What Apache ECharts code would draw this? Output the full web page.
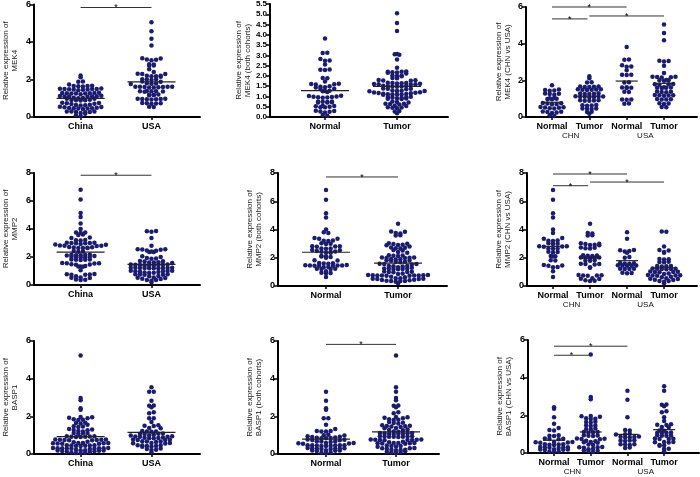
<!DOCTYPE html>
<html><head><meta charset="utf-8">
<script src="https://cdn.jsdelivr.net/npm/echarts@6/dist/echarts.min.js"></script>
<style>html,body{margin:0;padding:0;background:#fff}#c{width:700px;height:477px}</style>
</head><body><div id="c"></div>
<script>
// ---------- DATA ----------
const mek4ChnNormal = [1.73,1.50,1.47,1.45,1.43,1.27,1.25,1.22,1.28,1.02,1.00,0.98,1.03,0.97,0.75,0.73,0.71,0.76,0.70,0.52,0.50,0.48,0.53,0.47,0.55,0.29,0.27,0.25,0.30,0.22,0.10,0.06];
const mek4ChnTumor = [2.22,2.12,1.90,1.88,1.66,1.64,1.67,1.63,1.65,1.50,1.48,1.52,1.47,1.51,1.49,1.28,1.26,1.27,1.25,1.29,1.10,1.12,1.08,1.11,1.09,1.10,1.13,0.90,0.92,0.88,0.91,0.89,0.63,0.65,0.61,0.64,0.45,0.47,0.43,0.46,0.27,0.29,0.18];
const mek4UsaNormal = [3.82,3.13,3.12,2.82,2.75,2.74,2.55,2.31,2.29,2.30,1.90,1.88,1.62,1.60,1.58,1.61,1.38,1.36,0.96,0.95,0.94,0.74,0.72];
const mek4UsaTumor = [5.05,4.58,4.18,3.05,3.07,3.03,2.80,2.40,2.20,2.18,2.15,2.20,2.17,2.02,2.00,1.98,2.01,1.80,1.78,1.76,1.79,1.62,1.60,1.58,1.61,1.59,1.38,1.37,1.35,1.39,1.20,1.18,1.16,1.19,1.17,0.97,0.96,0.95,0.98,0.75,0.73,0.71,0.55,0.53];

const mmp2ChnNormal = [6.80,6.10,5.15,4.85,4.00,3.75,3.35,3.40,3.20,3.18,3.22,3.00,3.02,2.98,2.80,2.82,2.78,2.81,2.65,2.66,2.64,2.40,2.42,2.38,2.10,2.12,2.08,1.80,1.82,1.46,1.48,1.44,1.35,1.33,1.05,0.63];
const mmp2ChnTumor = [4.40,3.75,3.72,3.60,3.58,3.02,3.00,2.98,2.92,2.90,2.88,2.68,2.65,2.70,2.72,2.15,2.17,2.13,2.16,2.00,2.02,1.98,2.01,1.99,1.80,1.82,1.78,1.55,1.57,1.53,1.56,1.30,1.32,0.78,0.75,0.73,0.76,0.74,0.52,0.50,0.54,0.38,0.36,0.40];
const mmp2UsaNormal = [3.80,3.35,2.55,2.53,2.45,2.47,2.35,2.05,2.00,1.62,1.60,1.58,1.61,1.46,1.44,1.45,1.47,1.43,1.22,1.20,1.23,1.21,0.92,0.90,0.94];
const mmp2UsaTumor = [3.86,3.84,2.80,2.55,2.52,2.40,2.35,1.92,1.90,1.88,1.70,1.72,1.68,1.40,1.42,1.38,1.41,1.22,1.20,1.24,1.21,1.23,1.19,1.00,1.02,0.98,1.01,0.99,0.85,0.88,0.75,0.77,0.73,0.76,0.74,0.62,0.65,0.52,0.50,0.54,0.45,0.42,0.35,0.36,0.30,0.20];

const basp1ChnNormal = [2.43,2.35,1.90,1.55,1.33,1.22,1.20,0.92,0.90,0.94,0.75,0.77,0.73,0.76,0.57,0.59,0.55,0.58,0.56,0.45,0.47,0.43,0.46,0.44,0.30,0.32,0.28,0.31,0.29,0.27,0.18,0.20,0.16,0.19,0.17,0.07,0.05,0.08];
const basp1ChnTumor = [5.23,2.97,2.85,1.95,1.97,1.93,1.82,1.80,1.84,1.64,1.66,1.62,1.46,1.48,1.44,1.28,1.30,1.26,1.10,1.12,1.08,1.11,0.92,0.94,0.90,0.93,0.75,0.77,0.73,0.76,0.65,0.62,0.57,0.59,0.55,0.45,0.42,0.30,0.32,0.28,0.31,0.20,0.22,0.12,0.14,0.10,0.05];
const basp1UsaNormal = [3.30,2.83,1.90,1.20,1.22,1.00,1.02,0.98,0.85,0.87,0.83,0.86,0.84,0.66,0.68,0.64,0.67,0.45,0.47,0.43,0.46,0.27,0.29];
const basp1UsaTumor = [3.55,3.30,2.58,2.56,2.48,2.22,2.17,1.90,1.70,1.50,1.52,1.49,1.37,1.38,1.20,1.18,1.07,1.08,1.06,1.09,0.92,0.93,0.91,0.94,0.75,0.76,0.74,0.77,0.57,0.58,0.56,0.59,0.40,0.42,0.38,0.21,0.23,0.09];

const catsCountry = ['China', 'USA'];
const catsTissue = ['Normal', 'Tumor'];
const catsFour = ['Normal', 'Tumor', 'Normal', 'Tumor'];
const cohortLabels = ['CHN', 'USA'];

const yTitles = [
  'Relative expression of\nMEK4', 'Relative expression of\nMEK4 (both cohorts)', 'Relative expression of\nMEK4 (CHN vs USA)',
  'Relative expression of\nMMP2', 'Relative expression of\nMMP2 (both cohorts)', 'Relative expression of\nMMP2 (CHN vs USA)',
  'Relative expression of\nBASP1', 'Relative expression of\nBASP1 (both cohorts)', 'Relative expression of\nBASP1 (CHN vs USA)'
];
const yMaxes = [6, 5.5, 6, 8, 8, 8, 6, 6, 6];
const yIntervals = [2, 0.5, 2, 2, 2, 2, 2, 2, 2];

// significance bars: [from category, to category, y value]
const sigMek4Country = [[1, 2, 5.84]];
const sigMek4Tissue = [];
const sigMek4Four = [[1, 3, 6.0], [1, 1.95, 5.35], [2, 4, 5.51]];
const sigMmp2Country = [[1, 2, 7.84]];
const sigMmp2Tissue = [[1, 2, 7.72]];
const sigMmp2Four = [[1, 3, 7.93], [1, 1.95, 7.1], [2, 4, 7.36]];
const sigBasp1Country = [];
const sigBasp1Tissue = [[1, 2, 5.82]];
const sigBasp1Four = [[1, 3, 5.67], [1, 1.95, 5.19]];

// ---------- LAYOUT ----------
const FONT = '"Liberation Sans", Arial, Helvetica, sans-serif';
const DOT = '#1b1b70';
const layouts = [
  {grid: {left: 29, top: 4, width: 171, height: 113}, xr: [0.342, 2.685], gap: 15},
  {grid: {left: 270, top: 4, width: 178, height: 113}, xr: [0.236, 2.708], gap: 17},
  {grid: {left: 526, top: 7, width: 171, height: 110}, xr: [0.3035, 4.884], gap: 14},
  {grid: {left: 29, top: 173, width: 171, height: 112}, xr: [0.342, 2.685], gap: 15},
  {grid: {left: 278, top: 173, width: 169, height: 113}, xr: [0.333, 2.68], gap: 15},
  {grid: {left: 527, top: 173, width: 170, height: 113}, xr: [0.297, 4.89], gap: 15},
  {grid: {left: 29, top: 341, width: 171, height: 113}, xr: [0.342, 2.685], gap: 15},
  {grid: {left: 278, top: 341, width: 161, height: 113}, xr: [0.314, 2.614], gap: 15},
  {grid: {left: 528, top: 340, width: 171, height: 113}, xr: [0.29, 4.95], gap: 15}
];

const panelGroups = [
  {cats: catsCountry, groups: [mek4ChnNormal.concat(mek4ChnTumor), mek4UsaNormal.concat(mek4UsaTumor)], sig: sigMek4Country},
  {cats: catsTissue, groups: [mek4ChnNormal.concat(mek4UsaNormal), mek4ChnTumor.concat(mek4UsaTumor)], sig: sigMek4Tissue},
  {cats: catsFour, groups: [mek4ChnNormal, mek4ChnTumor, mek4UsaNormal, mek4UsaTumor], sig: sigMek4Four},
  {cats: catsCountry, groups: [mmp2ChnNormal.concat(mmp2ChnTumor), mmp2UsaNormal.concat(mmp2UsaTumor)], sig: sigMmp2Country},
  {cats: catsTissue, groups: [mmp2ChnNormal.concat(mmp2UsaNormal), mmp2ChnTumor.concat(mmp2UsaTumor)], sig: sigMmp2Tissue},
  {cats: catsFour, groups: [mmp2ChnNormal, mmp2ChnTumor, mmp2UsaNormal, mmp2UsaTumor], sig: sigMmp2Four},
  {cats: catsCountry, groups: [basp1ChnNormal.concat(basp1ChnTumor), basp1UsaNormal.concat(basp1UsaTumor)], sig: sigBasp1Country},
  {cats: catsTissue, groups: [basp1ChnNormal.concat(basp1UsaNormal), basp1ChnTumor.concat(basp1UsaTumor)], sig: sigBasp1Tissue},
  {cats: catsFour, groups: [basp1ChnNormal, basp1ChnTumor, basp1UsaNormal, basp1UsaTumor], sig: sigBasp1Four}
];

// Prism-style scatter-dot layout: values binned into rows, spread sideways (pixel offsets)
function swarm(values, pxPerUnit, binH, pitch) {
  const bins = {};
  values.forEach(v => {
    const b = Math.floor(v * pxPerUnit / binH);
    (bins[b] = bins[b] || []).push(v);
  });
  const out = [];
  Object.keys(bins).forEach(k => {
    const arr = bins[k].slice().sort((a, b) => a - b);
    const n = arr.length;
    const flip = (+k) % 2 ? 1 : -1;
    arr.forEach((v, j) => {
      let off;
      if (n % 2) { const m = Math.ceil(j / 2); off = (j % 2 ? 1 : -1) * m * pitch; }
      else { const m = Math.floor(j / 2); off = (j % 2 ? 1 : -1) * (m + 0.5) * pitch; }
      out.push({v: v, x: off * flip});
    });
  });
  return out;
}
const mean = a => a.reduce((s, v) => s + v, 0) / a.length;

const option = {animation: false, backgroundColor: '#fff', grid: [], xAxis: [], yAxis: [], series: []};

layouts.forEach((L, i) => {
  const P = panelGroups[i];
  const n = P.cats.length;
  const four = n === 4;
  option.grid.push(Object.assign({containLabel: false}, L.grid));
  const ticks = P.cats.map((c, k) => k + 1);
  option.xAxis.push({
    gridIndex: i, type: 'value', min: L.xr[0], max: L.xr[1],
    axisLine: {show: true, onZero: false, lineStyle: {color: '#000', width: 2}},
    axisTick: {show: true, customValues: ticks, length: 3, lineStyle: {color: '#000', width: 1.5}},
    axisLabel: {customValues: ticks, formatter: v => P.cats[Math.round(v) - 1], fontFamily: FONT, fontWeight: 'bold', fontSize: 9, color: '#000', margin: 5},
    splitLine: {show: false}
  });
  const xIdx = option.xAxis.length - 1;
  if (four) {
    option.xAxis.push({
      gridIndex: i, type: 'value', min: L.xr[0], max: L.xr[1], position: 'bottom',
      axisLine: {show: false, onZero: false}, axisTick: {show: false},
      axisLabel: {customValues: [1.5, 3.5], formatter: v => cohortLabels[v < 2.5 ? 0 : 1], fontFamily: FONT, fontSize: 8, color: '#111', margin: 15},
      splitLine: {show: false}
    });
  }
  option.yAxis.push({
    gridIndex: i, type: 'value', min: 0, max: yMaxes[i], interval: yIntervals[i],
    axisLine: {show: true, lineStyle: {color: '#000', width: 2}},
    axisTick: {show: true, length: 4, lineStyle: {color: '#000', width: 1.5}},
    axisLabel: {fontFamily: FONT, fontWeight: 'bold', fontSize: i === 1 ? 8 : 9, color: '#000', margin: 3,
      formatter: v => yIntervals[i] < 1 ? v.toFixed(1) : String(v)},
    splitLine: {show: false},
    name: yTitles[i], nameLocation: 'middle', nameRotate: 90, nameGap: L.gap,
    nameTextStyle: {fontFamily: FONT, fontSize: 8, lineHeight: 9, color: '#222'}
  });
  const yIdx = i;
  const pxPerUnit = L.grid.height / yMaxes[i];
  const dots = [], means = [];
  P.groups.forEach((g, k) => {
    swarm(g, pxPerUnit, 3.7, 4.6).forEach(p => dots.push([k + 1, p.v, p.x]));
    means.push([k + 1, mean(g), four ? 11 : 24]);
  });
  option.series.push({
    type: 'custom', xAxisIndex: xIdx, yAxisIndex: yIdx, data: dots, encode: {x: 0, y: 1}, silent: true,
    renderItem: (params, api) => {
      const p = api.coord([api.value(0), api.value(1)]);
      return {type: 'circle', shape: {cx: p[0] + api.value(2), cy: p[1], r: 2.25}, style: {fill: DOT}};
    }
  });
  option.series.push({
    type: 'custom', xAxisIndex: xIdx, yAxisIndex: yIdx, data: means, encode: {x: 0, y: 1}, silent: true, z: 3,
    renderItem: (params, api) => {
      const p = api.coord([api.value(0), api.value(1)]);
      const h = api.value(2);
      return {type: 'line', shape: {x1: p[0] - h, y1: p[1], x2: p[0] + h, y2: p[1]}, style: {stroke: '#222', lineWidth: 1.2}};
    }
  });
  if (P.sig.length) {
    option.series.push({
      type: 'custom', xAxisIndex: xIdx, yAxisIndex: yIdx, data: P.sig, encode: {x: [0, 1], y: 2}, silent: true, clip: false,
      renderItem: (params, api) => {
        const a = api.coord([api.value(0), api.value(2)]);
        const b = api.coord([api.value(1), api.value(2)]);
        return {type: 'group', children: [
          {type: 'line', shape: {x1: a[0], y1: a[1], x2: b[0], y2: b[1]}, style: {stroke: '#333', lineWidth: 1}},
          {type: 'text', style: {text: '*', x: (a[0] + b[0]) / 2, y: a[1] + 5, align: 'center', verticalAlign: 'bottom', fontSize: 9, fontFamily: FONT, fill: '#000'}}
        ]};
      }
    });
  }
});

const chart = echarts.init(document.getElementById('c'), null, {renderer: 'canvas'});
chart.setOption(option);
</script>
</body></html>
